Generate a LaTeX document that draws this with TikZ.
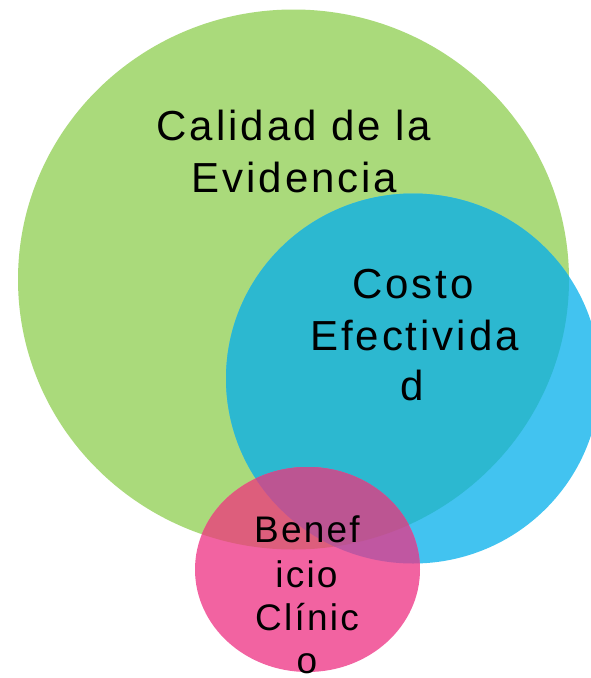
\documentclass[tikz,border=0pt]{standalone}
\usepackage{fontspec}
\setmainfont{Liberation Sans}
\newfontfamily\bigfont[LetterSpace=7]{Liberation Sans}
\newfontfamily\smallfont[LetterSpace=6]{Liberation Sans}
\definecolor{cgreen}{HTML}{AADA7B}
\definecolor{cblue}{HTML}{42C3F0}
\definecolor{cbluegreen}{HTML}{2CB8D0}
\definecolor{cpink}{HTML}{F263A1}
\definecolor{cpinkgreen}{HTML}{DD5E7C}
\definecolor{cpinkblue}{HTML}{C057A1}
\definecolor{cpinkbluegreen}{HTML}{BC5592}
\tikzset{
  bigtext/.style={anchor=base, inner sep=0pt, font=\bigfont\fontsize{42}{50}\selectfont},
  smalltext/.style={anchor=base, inner sep=0pt, font=\smallfont\fontsize{37}{44}\selectfont}
}
\begin{document}
\begin{tikzpicture}[x=1pt,y=-1pt]
\useasboundingbox (0,0) rectangle (591,678);
% base circles
\fill[cgreen] (293.5,279.5) ellipse [x radius=275.5pt, y radius=270pt];
\fill[cblue] (413,378.5) ellipse [x radius=187pt, y radius=185pt];
\begin{scope}
  \clip (293.5,279.5) ellipse [x radius=275.5pt, y radius=270pt];
  \fill[cbluegreen] (413,378.5) ellipse [x radius=187pt, y radius=185pt];
\end{scope}
\fill[cpink] (307.5,569.5) ellipse [x radius=112.5pt, y radius=102.5pt];
\begin{scope}
  \clip (307.5,569.5) ellipse [x radius=112.5pt, y radius=102.5pt];
  \fill[cpinkgreen] (293.5,279.5) ellipse [x radius=275.5pt, y radius=270pt];
  \fill[cpinkblue] (413,378.5) ellipse [x radius=187pt, y radius=185pt];
  \clip (293.5,279.5) ellipse [x radius=275.5pt, y radius=270pt];
  \fill[cpinkbluegreen] (413,378.5) ellipse [x radius=187pt, y radius=185pt];
\end{scope}
% texts
\node[bigtext] (cal1) at (294,140) {Calidad de la};
\node[bigtext] (cal2) at (294.5,192) {Evidencia};
\node[bigtext] (cos1) at (413,298) {Costo};
\node[bigtext] (cos2) at (414.5,350) {Efectivida};
\node[bigtext] (cos3) at (412,400) {d};
\node[smalltext] (ben1) at (307,542) {Benef};
\node[smalltext] (ben2) at (306.5,587) {icio};
\node[smalltext] (ben3) at (307,630) {Clínic};
\node[smalltext] (ben4) at (307,673) {o};
\end{tikzpicture}
\end{document}
